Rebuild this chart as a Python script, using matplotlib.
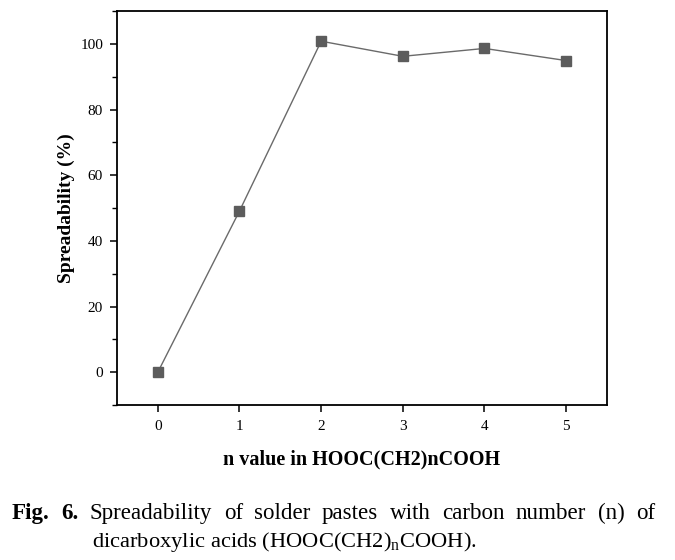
import matplotlib
matplotlib.use("Agg")
import matplotlib.pyplot as plt
from matplotlib.ticker import MultipleLocator

plt.rcParams['font.family'] = ['Liberation Serif', 'DejaVu Serif']
plt.rcParams['mathtext.fontset'] = 'custom'
plt.rcParams['mathtext.rm'] = 'Liberation Serif'

n_values = [0, 1, 2, 3, 4, 5]
spreadability = [0.0, 49.1, 100.8, 96.2, 98.6, 94.9]
x_ticks = [0, 1, 2, 3, 4, 5]
y_ticks = [0, 20, 40, 60, 80, 100]

W, H = 675, 560
fig = plt.figure(figsize=(W / 100, H / 100), dpi=100)
ax = fig.add_axes([117 / W, 1 - 405 / H, (607 - 117) / W, (405 - 11) / H])

ax.plot(n_values, spreadability, color='#6a6a6a', lw=1.0, marker='s',
        markersize=7, markerfacecolor='#5c5c5c', markeredgecolor='#5c5c5c', zorder=3)

ax.set_xlim(-0.5, 5.5)
ax.set_ylim(-10, 110)
ax.set_xticks(x_ticks)
ax.set_yticks(y_ticks)
ax.yaxis.set_minor_locator(MultipleLocator(10))
ax.tick_params(axis='both', which='major', direction='out', length=5, width=1.1,
               labelsize=11, pad=5, top=False, right=False)
ax.tick_params(axis='y', which='minor', direction='out', length=3.5, width=1.0)
ax.tick_params(axis='x', pad=6)
for sp in ax.spines.values():
    sp.set_linewidth(1.3)

ax.set_xlabel('n value in HOOC(CH2)nCOOH', fontsize=14.5, fontweight='bold', labelpad=12)
ax.set_ylabel('Spreadability (%)', fontsize=14, fontweight='bold', labelpad=4)

# Caption, first line justified
renderer = fig.canvas.get_renderer()
line1 = [("Fig.", 'bold'), ("6.", 'bold'), ("Spreadability", 'normal'), ("of", 'normal'),
         ("solder", 'normal'), ("pastes", 'normal'), ("with", 'normal'), ("carbon", 'normal'),
         ("number", 'normal'), ("(n)", 'normal'), ("of", 'normal')]
x_left, x_right, y1 = 12, 655, 1 - 519 / H
texts = []
widths = []
for w, fw in line1:
    t = fig.text(0, y1, w, fontsize=16.6, fontweight=fw, ha='left', va='baseline')
    texts.append(t)
    widths.append(t.get_window_extent(renderer).width)
gap = (x_right - x_left - sum(widths)) / (len(line1) - 1)
x = x_left
for t, wd in zip(texts, widths):
    t.set_x(x / W)
    x += wd + gap

fig.text(92 / W, 1 - 547 / H, 'dicarboxylic acids (HOOC(CH2)$_\\mathregular{n}$COOH).',
         fontsize=16.2, ha='left', va='baseline')

fig.savefig('out.png', dpi=100)
